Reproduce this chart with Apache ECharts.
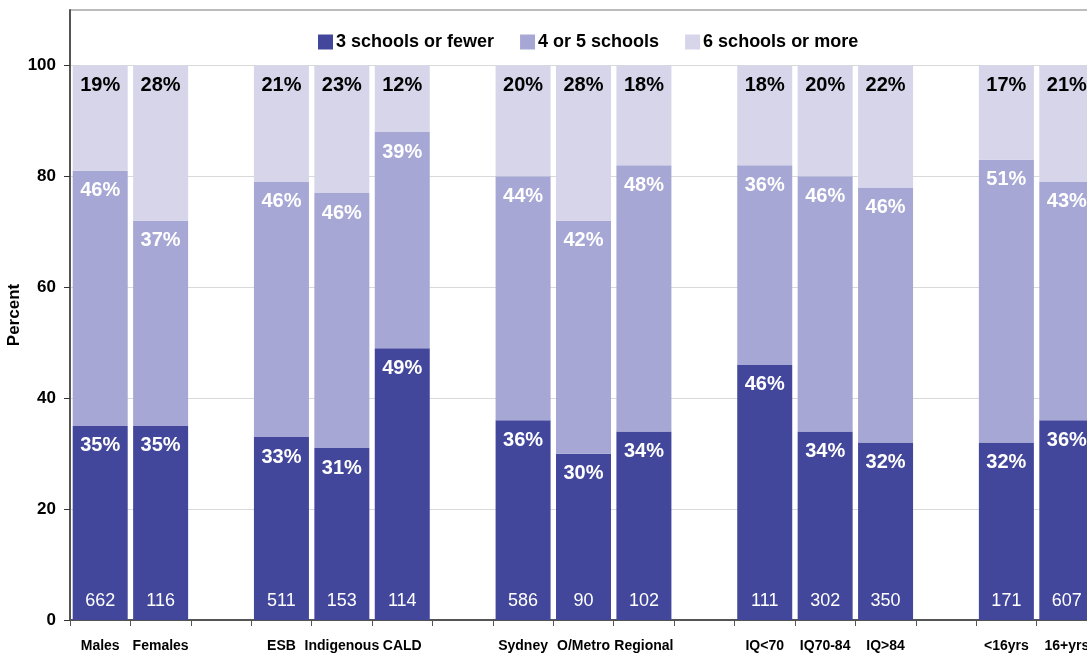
<!DOCTYPE html>
<html>
<head>
<meta charset="utf-8">
<script src="https://cdn.jsdelivr.net/npm/echarts@6/dist/echarts.min.js"></script>
<style>
  html, body { margin: 0; padding: 0; background: #fff; }
  #chart { width: 1087px; height: 655px; }
</style>
</head>
<body>
<div id="chart"></div>
<script>
// Groups are separated by empty category slots (null values).
const categories = ['Males', 'Females', ' ', 'ESB', 'Indigenous', 'CALD', '  ',
  'Sydney', 'O/Metro', 'Regional', '   ', 'IQ<70', 'IQ70-84', 'IQ>84', '    ',
  '<16yrs', '16+yrs'];
const fewer = [35, 35, null, 33, 31, 49, null, 36, 30, 34, null, 46, 34, 32, null, 32, 36];
const fourFive = [46, 37, null, 46, 46, 39, null, 44, 42, 48, null, 36, 46, 46, null, 51, 43];
const sixMore = [19, 28, null, 21, 23, 12, null, 20, 28, 18, null, 18, 20, 22, null, 17, 21];
const counts = [662, 116, null, 511, 153, 114, null, 586, 90, 102, null, 111, 302, 350, null, 171, 607];
const yTicks = [0, 20, 40, 60, 80, 100];

const FONT = 'Liberation Sans, Arial, sans-serif';
const colors = ['#43479B', '#A6A7D4', '#D6D5EA'];

function pctLabel(color) {
  return {
    show: true,
    position: 'insideTop',
    distance: 10,
    formatter: p => p.value == null ? '' : p.value + '%',
    color: color,
    fontFamily: FONT,
    fontWeight: 'bold',
    fontSize: 20
  };
}

const chart = echarts.init(document.getElementById('chart'), null, { renderer: 'canvas' });
chart.setOption({
  animation: false,
  color: colors,
  legend: {
    left: 313,
    top: 28,
    itemWidth: 15,
    itemHeight: 15,
    itemGap: 26,
    icon: 'rect',
    textStyle: { fontFamily: FONT, fontWeight: 'bold', fontSize: 18, color: '#000', padding: [0, 0, 0, -2] },
    data: ['3 schools or fewer', '4 or 5 schools', '6 schools or more']
  },
  grid: {
    left: 70, right: -10, top: 10, bottom: 35, containLabel: false, outerBoundsMode: 'none',
    show: true, borderColor: '#a6a6a6', borderWidth: 1.5, backgroundColor: 'transparent'
  },
  xAxis: {
    type: 'category',
    data: categories,
    boundaryGap: true,
    axisLine: { lineStyle: { color: '#555', width: 2 } },
    axisTick: { show: true, alignWithLabel: false, length: 6, lineStyle: { color: '#555' }, interval: 0 },
    axisLabel: {
      interval: 0,
      margin: 19,
      color: '#000',
      fontFamily: FONT,
      fontWeight: 'bold',
      fontSize: 14
    }
  },
  yAxis: {
    type: 'value',
    min: 0,
    max: 110,
    interval: 20,
    name: 'Percent',
    nameLocation: 'middle',
    nameGap: 47,
    nameMoveOverlap: false,
    nameTextStyle: { fontFamily: FONT, fontWeight: 'bold', fontSize: 17, color: '#000' },
    axisLine: { show: true, lineStyle: { color: '#555', width: 2 } },
    axisTick: { show: true, length: 6, lineStyle: { color: '#333' }, customValues: yTicks },
    axisLabel: {
      margin: 14,
      color: '#000',
      fontFamily: FONT,
      fontWeight: 'bold',
      fontSize: 17,
      customValues: yTicks
    },
    splitLine: { show: true, lineStyle: { color: '#d9d9d9', width: 1 } }
  },
  series: [
    {
      name: '3 schools or fewer', type: 'bar', stack: 'total', barWidth: 55,
      data: fewer, itemStyle: { color: colors[0] }, label: pctLabel('#fff')
    },
    {
      name: '4 or 5 schools', type: 'bar', stack: 'total', barWidth: 55,
      data: fourFive, itemStyle: { color: colors[1] }, label: pctLabel('#fff')
    },
    {
      name: '6 schools or more', type: 'bar', stack: 'total', barWidth: 55,
      data: sixMore, itemStyle: { color: colors[2] }, label: pctLabel('#000')
    },
    {
      // sample sizes written along the base of each bar
      name: 'n', type: 'bar', barWidth: 55, barGap: '-100%', z: 5,
      data: fewer, silent: true,
      itemStyle: { color: 'rgba(0,0,0,0)' },
      label: {
        show: true,
        position: 'insideBottom',
        distance: 10,
        formatter: p => counts[p.dataIndex] == null ? '' : String(counts[p.dataIndex]),
        color: '#fff',
        fontFamily: FONT,
        fontSize: 18
      }
    }
  ]
});
</script>
</body>
</html>
